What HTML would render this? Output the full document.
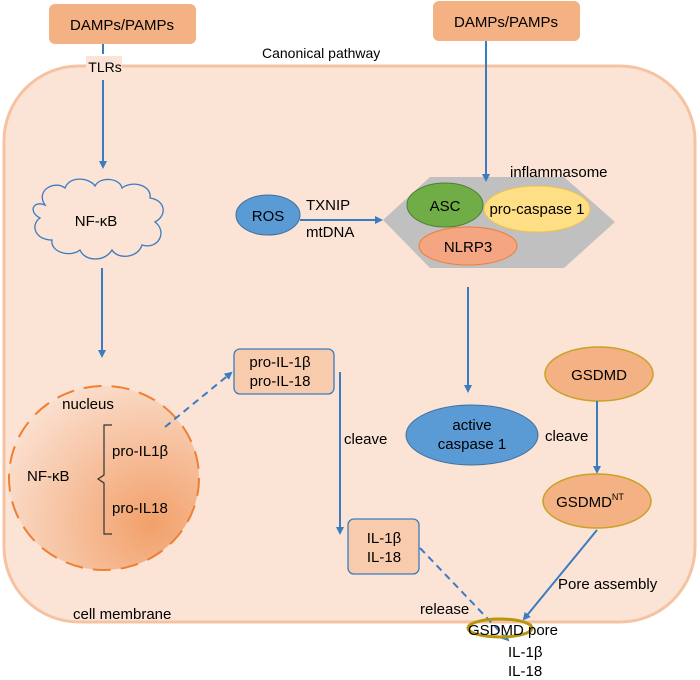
<!DOCTYPE html>
<html><head><meta charset="utf-8"><style>
body{margin:0;background:#fff;}
svg{display:block;font-family:"Liberation Sans",sans-serif;}
</style></head><body>
<svg width="700" height="680" viewBox="0 0 700 680" xmlns="http://www.w3.org/2000/svg">
<defs>
<marker id="a" markerWidth="8" markerHeight="8" refX="6" refY="4" orient="auto" markerUnits="userSpaceOnUse"><path d="M0,0 L8,4 L0,8 Z" fill="#3a7cc2"/></marker>
<radialGradient id="g" cx="0.75" cy="0.75" r="0.9"><stop offset="0" stop-color="#f2a06a"/><stop offset="1" stop-color="#fbe3d5"/></radialGradient>
</defs>
<rect x="4" y="66" width="691" height="556" rx="75" fill="#fbe3d5" stroke="#f5c3a2" stroke-width="3"/>
<rect x="49" y="4" width="147" height="40" rx="6" fill="#f4b183"/>
<text x="122" y="30" font-size="15" text-anchor="middle">DAMPs/PAMPs</text>
<rect x="433" y="1" width="147" height="40" rx="6" fill="#f4b183"/>
<text x="506" y="27" font-size="15" text-anchor="middle">DAMPs/PAMPs</text>
<text x="262" y="58" font-size="14">Canonical pathway</text>
<line x1="103" y1="44" x2="103" y2="54" stroke="#3a7cc2" stroke-width="2"/>
<rect x="86" y="56" width="36" height="22" fill="#fbe3d5"/>
<text x="105" y="72" font-size="14" text-anchor="middle">TLRs</text>
<line x1="103" y1="80" x2="103" y2="167" stroke="#3a7cc2" stroke-width="2" marker-end="url(#a)"/>
<path d="M45,205 C35,190 55,180 65,188 C70,175 90,178 95,186 C100,176 120,178 122,188 C132,180 152,185 150,198 C165,200 168,215 155,222 C168,232 158,250 142,245 C138,258 118,260 112,250 C105,262 85,262 80,250 C70,258 50,252 52,240 C35,240 30,225 40,218 C28,212 33,200 45,205 Z" fill="#fbe3d5" stroke="#3a7cc2" stroke-width="1.3"/>
<text x="96" y="226" font-size="15" text-anchor="middle">NF-κB</text>
<line x1="102" y1="268" x2="102" y2="356" stroke="#3a7cc2" stroke-width="2" marker-end="url(#a)"/>
<ellipse cx="104" cy="478" rx="95" ry="92" fill="url(#g)" stroke="#f07f32" stroke-width="2" stroke-dasharray="18,10"/>
<text x="88" y="409" font-size="15" text-anchor="middle">nucleus</text>
<text x="27" y="481" font-size="15">NF-κB</text>
<path d="M112,425 L104,425 L104,475 L98,479 L104,483 L104,534 L112,534" fill="none" stroke="#333" stroke-width="1.2"/>
<text x="112" y="456" font-size="15">pro-IL1β</text>
<text x="112" y="513" font-size="15">pro-IL18</text>
<line x1="165" y1="427" x2="231" y2="373" stroke="#3a7cc2" stroke-width="2" stroke-dasharray="7,5" marker-end="url(#a)"/>
<rect x="234" y="349" width="100" height="45" rx="6" fill="#f8cbad" stroke="#3a7cc2" stroke-width="1.3"/>
<text x="280" y="367" font-size="15" text-anchor="middle">pro-IL-1β</text>
<text x="280" y="386" font-size="15" text-anchor="middle">pro-IL-18</text>
<line x1="340" y1="372" x2="340" y2="533" stroke="#3a7cc2" stroke-width="2" marker-end="url(#a)"/>
<text x="344" y="444" font-size="15">cleave</text>
<rect x="348" y="519" width="71" height="55" rx="6" fill="#f8cbad" stroke="#3a7cc2" stroke-width="1.3"/>
<text x="384" y="543" font-size="15" text-anchor="middle">IL-1β</text>
<text x="384" y="562" font-size="15" text-anchor="middle">IL-18</text>
<line x1="420" y1="548" x2="508" y2="640" stroke="#3a7cc2" stroke-width="2" stroke-dasharray="7,5" marker-end="url(#a)"/>
<text x="420" y="614" font-size="15">release</text>
<ellipse cx="268" cy="215" rx="32" ry="20" fill="#5b9bd5" stroke="#41719c"/>
<text x="268" y="221" font-size="15" text-anchor="middle">ROS</text>
<text x="306" y="210" font-size="15">TXNIP</text>
<text x="306" y="237" font-size="15">mtDNA</text>
<line x1="300" y1="220" x2="381" y2="220" stroke="#3a7cc2" stroke-width="2" marker-end="url(#a)"/>
<polygon points="383,220 430,177 564,177 615,222 564,268 430,268" fill="#c0c0c0"/>
<text x="510" y="177" font-size="15">inflammasome</text>
<line x1="486" y1="41" x2="486" y2="180" stroke="#3a7cc2" stroke-width="2" marker-end="url(#a)"/>
<ellipse cx="537" cy="209" rx="53" ry="23" fill="#ffdf85" stroke="#f2c24a"/>
<text x="537" y="214" font-size="15" text-anchor="middle">pro-caspase 1</text>
<ellipse cx="445" cy="205" rx="38" ry="22" fill="#70ad47" stroke="#507e32"/>
<text x="445" y="211" font-size="15" text-anchor="middle">ASC</text>
<ellipse cx="468" cy="246" rx="49" ry="19" fill="#f4a582" stroke="#ed7d31"/>
<text x="468" y="252" font-size="15" text-anchor="middle">NLRP3</text>
<line x1="468" y1="287" x2="468" y2="391" stroke="#3a7cc2" stroke-width="2" marker-end="url(#a)"/>
<ellipse cx="472" cy="435" rx="66" ry="30" fill="#5b9bd5" stroke="#41719c"/>
<text x="472" y="430" font-size="15" text-anchor="middle">active</text>
<text x="472" y="449" font-size="15" text-anchor="middle">caspase 1</text>
<text x="545" y="441" font-size="15">cleave</text>
<ellipse cx="599" cy="374" rx="54" ry="27" fill="#f4b183" stroke="#c9a227" stroke-width="1.5"/>
<text x="599" y="380" font-size="15" text-anchor="middle">GSDMD</text>
<line x1="597" y1="401" x2="597" y2="472" stroke="#3a7cc2" stroke-width="2" marker-end="url(#a)"/>
<ellipse cx="597" cy="501" rx="54" ry="27" fill="#f4b183" stroke="#c9a227" stroke-width="1.5"/>
<text x="590" y="507" font-size="15" text-anchor="middle">GSDMD<tspan font-size="9" dy="-7">NT</tspan></text>
<line x1="597" y1="530" x2="524" y2="619" stroke="#3a7cc2" stroke-width="2" marker-end="url(#a)"/>
<text x="558" y="589" font-size="15">Pore assembly</text>
<ellipse cx="500" cy="628" rx="32" ry="9" fill="none" stroke="#b8960c" stroke-width="3"/>
<text x="468" y="635" font-size="15">GSDMD pore</text>
<text x="508" y="657" font-size="15">IL-1β</text>
<text x="508" y="676" font-size="15">IL-18</text>
<text x="73" y="619" font-size="15">cell membrane</text>
</svg>
</body></html>
